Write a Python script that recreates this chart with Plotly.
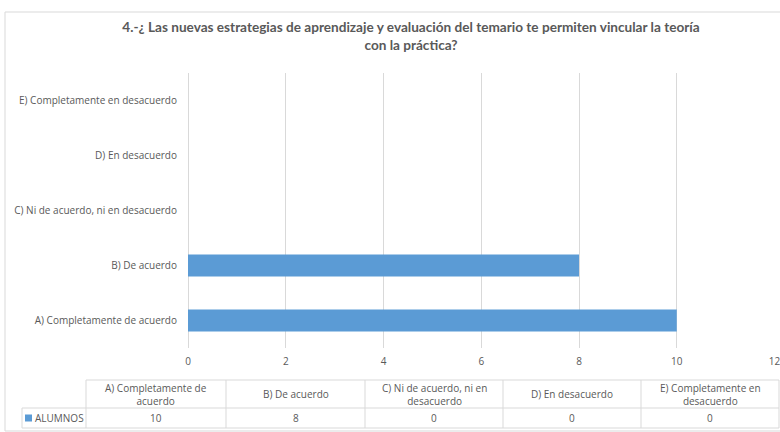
import plotly.graph_objects as go

categories = ["A) Completamente de acuerdo", "B) De acuerdo",
              "C) Ni de acuerdo, ni en desacuerdo", "D) En desacuerdo",
              "E) Completamente en desacuerdo"]
header_labels = ["A) Completamente de<br>acuerdo", "B) De acuerdo",
                 "C) Ni de acuerdo, ni en<br>desacuerdo", "D) En desacuerdo",
                 "E) Completamente en<br>desacuerdo"]
values = [10, 8, 0, 0, 0]
series_name = "ALUMNOS"
title_text = ("4.-¿ Las nuevas estrategias de aprendizaje y evaluación del temario te permiten vincular la teoría"
              "<br>con la práctica?")

BAR = "#5B9BD5"
GRID = "#D9D9D9"
TXT = "#595959"
FONT = "Open Sans"
FS = 10

W, H = 780, 432
ml, mr, mt, mb = 22, 1, 12, 4
pw, ph = W - ml - mr, H - mt - mb

def px_x(x):
    return (x - ml) / pw

def px_y(y):
    return (H - mb - y) / ph

fig = go.Figure()
fig.add_trace(go.Bar(
    x=values, y=categories, orientation="h", width=0.4,
    marker=dict(color=BAR, line=dict(width=0)), name=series_name,
    showlegend=False, hoverinfo="x+y",
))

# ---- data table (drawn with shapes + annotations) ----
col_edges = [86, 226, 365, 503, 641, 779]
t_top, t_mid, t_bot = 380, 408, 428
leg_left = 22
shapes = []
def hline(x0, x1, y):
    shapes.append(dict(type="line", xref="paper", yref="paper",
                       x0=px_x(x0), x1=px_x(x1), y0=px_y(y), y1=px_y(y),
                       line=dict(color=GRID, width=1)))
def vline(x, y0, y1):
    shapes.append(dict(type="line", xref="paper", yref="paper",
                       x0=px_x(x), x1=px_x(x), y0=px_y(y0), y1=px_y(y1),
                       line=dict(color=GRID, width=1)))
hline(col_edges[0], col_edges[-1], t_top)
hline(leg_left, col_edges[-1], t_mid)
hline(leg_left, col_edges[-1], t_bot)
vline(leg_left, t_mid, t_bot)
for xe in col_edges:
    vline(xe, t_top, t_bot)

# legend swatch
shapes.append(dict(type="rect", xref="paper", yref="paper",
                   x0=px_x(25), x1=px_x(32), y0=px_y(421.5), y1=px_y(414.5),
                   line=dict(width=0), fillcolor=BAR))

# outer chart border
shapes.append(dict(type="rect", xref="paper", yref="paper",
                   x0=px_x(5), x1=px_x(800), y0=px_y(431), y1=px_y(12),
                   line=dict(color=GRID, width=1), fillcolor="rgba(0,0,0,0)", layer="below"))

annotations = []
for i, (lab, v) in enumerate(zip(header_labels, values)):
    cx = (col_edges[i] + col_edges[i + 1]) / 2
    annotations.append(dict(text=lab, xref="paper", yref="paper",
                            x=px_x(cx), y=px_y((t_top + t_mid) / 2),
                            xanchor="center", yanchor="middle", showarrow=False,
                            align="center", font=dict(family=FONT, size=FS, color=TXT)))
    annotations.append(dict(text=str(v), xref="paper", yref="paper",
                            x=px_x(cx), y=px_y((t_mid + t_bot) / 2),
                            xanchor="center", yanchor="middle", showarrow=False,
                            font=dict(family=FONT, size=FS, color=TXT)))
annotations.append(dict(text=series_name, xref="paper", yref="paper",
                        x=px_x(33), y=px_y((t_mid + t_bot) / 2),
                        xanchor="left", yanchor="middle", showarrow=False,
                        font=dict(family=FONT, size=FS, color=TXT)))

fig.update_layout(
    width=W, height=H,
    margin=dict(l=ml, r=mr, t=mt, b=mb, pad=0, autoexpand=False),
    paper_bgcolor="white", plot_bgcolor="white",
    font=dict(family=FONT, size=FS, color=TXT),
    title=dict(text=title_text, x=411 / W, xref="container", xanchor="center",
               y=1 - 32 / H, yref="container", yanchor="middle",
               font=dict(family="Lato", size=13.6, color=TXT, weight="bold")),
    xaxis=dict(domain=[px_x(188), px_x(775)], range=[0, 12.01],
               tickvals=[0, 2, 4, 6, 8, 10, 12], automargin=False,
               showgrid=True, gridcolor=GRID, gridwidth=1,
               zeroline=True, zerolinecolor=GRID, zerolinewidth=1,
               showline=False, ticks="", ticklabelstandoff=6,
               ticklabeloverflow="allow",
               tickfont=dict(family=FONT, size=FS, color=TXT), fixedrange=True),
    yaxis=dict(domain=[px_y(348), px_y(73)], categoryorder="array", categoryarray=categories,
               showgrid=False, zeroline=False, showline=False, ticks="",
               ticklabelstandoff=10, automargin=False,
               tickfont=dict(family=FONT, size=FS, color=TXT), fixedrange=True),
    shapes=shapes,
    annotations=annotations,
)

fig.write_html("out.html", config={"displayModeBar": False},
               post_script="document.body.style.margin='0';")
